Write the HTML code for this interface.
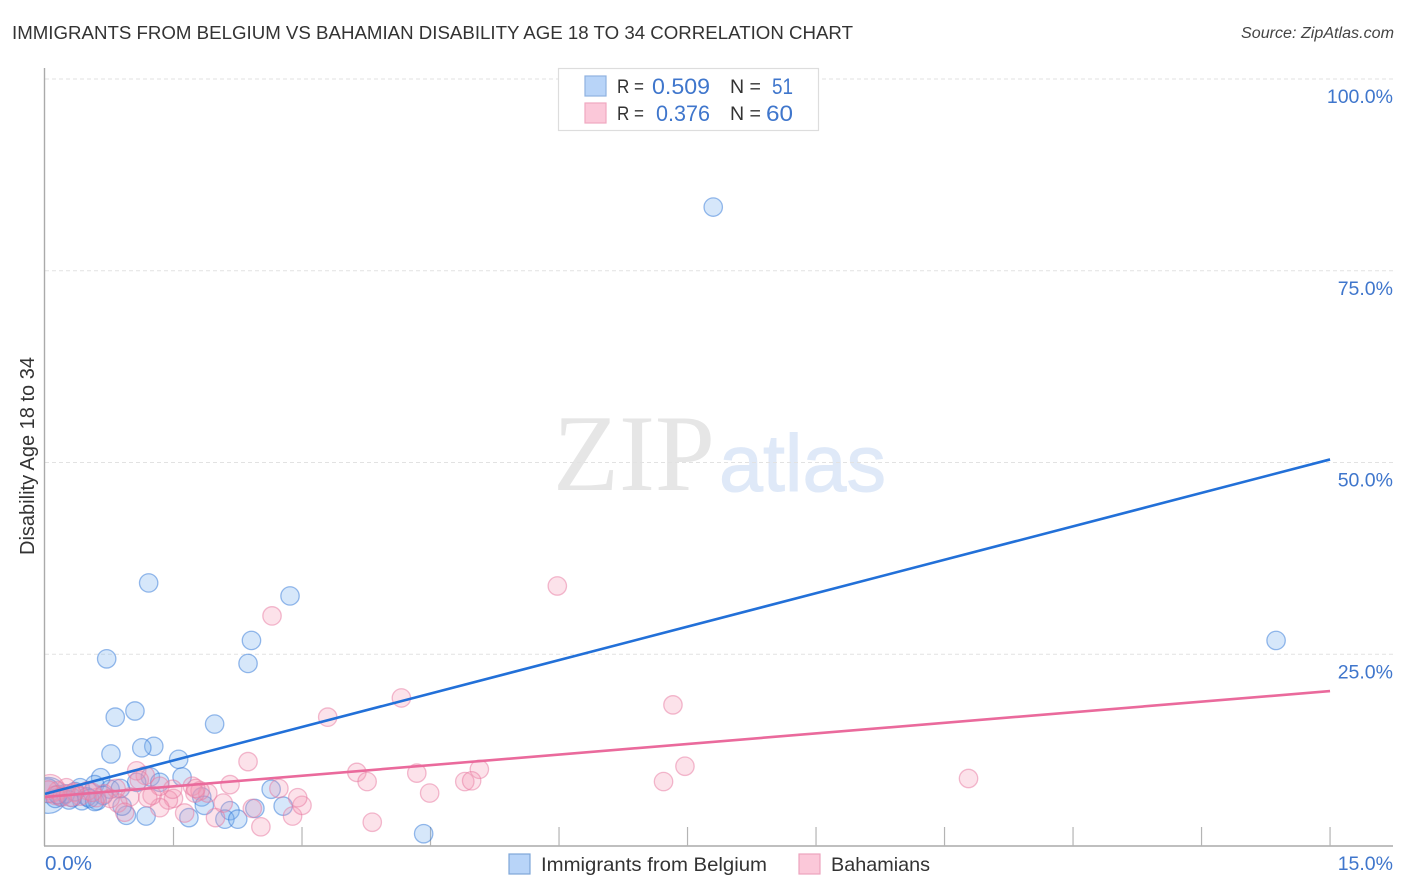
<!DOCTYPE html>
<html>
<head>
<meta charset="utf-8">
<title>Correlation chart</title>
<style>
html,body{margin:0;padding:0;background:#fff;}
svg{display:block;font-family:"Liberation Sans",sans-serif;}
</style>
</head>
<body>
<svg id="chart" width="1406" height="892" viewBox="0 0 1406 892" xmlns="http://www.w3.org/2000/svg">
  <defs>
    <clipPath id="plot-clip"><rect x="45" y="60" width="1350" height="786"/></clipPath>
  </defs>
  <text x="12" y="39" font-size="18" fill="#333" textLength="841" lengthAdjust="spacingAndGlyphs">IMMIGRANTS FROM BELGIUM VS BAHAMIAN DISABILITY AGE 18 TO 34 CORRELATION CHART</text>
  <text x="1394" y="38" font-size="15.5" font-style="italic" fill="#444" text-anchor="end" textLength="153" lengthAdjust="spacingAndGlyphs">Source: ZipAtlas.com</text>
  <g id="watermark">
    <text x="553" y="490" font-family="'Liberation Serif',serif" font-size="109" fill="#e6e6e6" textLength="162" lengthAdjust="spacingAndGlyphs">ZIP</text>
    <text x="719" y="491" font-size="81" fill="#dfe9f8" stroke="#dfe9f8" stroke-width="1" textLength="167" lengthAdjust="spacingAndGlyphs">atlas</text>
  </g>
  <g id="grid"></g>
  <g id="axes"></g>
  <g id="points-blue" clip-path="url(#plot-clip)"></g>
  <g id="points-pink" clip-path="url(#plot-clip)"></g>
  <g id="trends"></g>
  <g id="labels"></g>

  <g>
    <rect x="558.5" y="68.5" width="260" height="62" fill="#fff" stroke="#ddd" stroke-width="1.2"/>
    <rect x="585" y="76" width="21" height="20" fill="#b8d4f8" stroke="#8fb2e0" stroke-width="1.2"/>
    <rect x="585" y="103" width="21" height="20" fill="#fbc8d9" stroke="#f0a8c0" stroke-width="1.2"/>
    <g font-size="19" fill="#333">
      <text x="617" y="93" textLength="27" lengthAdjust="spacingAndGlyphs">R =</text>
      <text x="730" y="93" textLength="31" lengthAdjust="spacingAndGlyphs">N =</text>
      <text x="617" y="120" textLength="27" lengthAdjust="spacingAndGlyphs">R =</text>
      <text x="730" y="120" textLength="31" lengthAdjust="spacingAndGlyphs">N =</text>
    </g>
    <g font-size="22" fill="#3f76cc">
      <text x="652" y="94" textLength="58" lengthAdjust="spacingAndGlyphs">0.509</text>
      <text x="772" y="94" textLength="21" lengthAdjust="spacingAndGlyphs">51</text>
      <text x="656" y="121" textLength="54" lengthAdjust="spacingAndGlyphs">0.376</text>
      <text x="766" y="121" textLength="27" lengthAdjust="spacingAndGlyphs">60</text>
    </g>
  </g>

  <g>
    <rect x="509" y="854" width="21" height="20" fill="#b8d4f8" stroke="#7ea6d8" stroke-width="1.2"/>
    <text x="541" y="871" font-size="19.5" fill="#333" textLength="226" lengthAdjust="spacingAndGlyphs">Immigrants from Belgium</text>
    <rect x="799" y="854" width="21" height="20" fill="#fbc8d9" stroke="#eda3bd" stroke-width="1.2"/>
    <text x="831" y="871" font-size="19.5" fill="#333" textLength="99" lengthAdjust="spacingAndGlyphs">Bahamians</text>
  </g>
</svg>
<script>
// Chart data, in percent
const yTickValues = [25, 50, 75, 100];
const yTickLabels = ['25.0%', '50.0%', '75.0%', '100.0%'];
const xTickValues = [1.5, 3, 4.5, 6, 7.5, 9, 10.5, 12, 13.5, 15];
const xEndLabels = ['0.0%', '15.0%'];
const blueX = [7.8,14.37,1.21,2.86,2.41,2.37,0.72,1.05,0.82,1.98,0.77,1.27,1.13,1.56,1.6,1.23,1.34,1.07,0.65,0.58,0.41,0.76,2.64,1.83,1.86,2.78,2.45,2.16,2.1,2.25,1.18,0.95,1.68,4.42,0.9,0.61,0.43,0.32,0.18,0.04,0.03,0.12,0.24,0.35,0.49,0.68,0.88,0.52,0.28,0.15,0.58];
const blueY = [83.3,26.8,34.3,32.6,26.8,23.8,24.4,17.6,16.8,15.9,12,13,12.8,11.3,9,9,8.3,8.3,8.9,8,7.6,7.4,7.4,6.4,5.3,5.2,4.9,4.6,3.5,3.5,3.9,4,3.7,1.6,5.2,5.9,5.9,6.3,6.4,6.6,7.2,6.2,6.8,7.1,6.4,6.6,7.5,6.2,6,6.7,5.8];
const pinkX = [5.98,2.65,4.16,3.3,7.33,10.78,7.47,7.22,2.37,3.64,3.76,4.34,5.07,4.9,4.98,4.49,3.82,2.52,2.89,3,2.95,2.73,2.16,2.42,1.99,2.08,1.9,1.72,1.81,1.63,1.5,1.44,1.34,1.25,1.49,1.17,1.07,1.34,0.99,0.85,0.93,0.83,0.69,0.6,0.5,0.34,0.25,0.15,0.06,0.04,0.12,0.2,0.41,0.76,1.75,1.76,1.2,0.55,0.3,1.1];
const pinkY = [33.9,30,19.3,16.8,18.4,8.8,10.4,8.4,11,9.6,8.4,9.5,10,8.4,8.5,6.9,3.1,2.5,3.9,5.3,6.3,7.5,8,4.9,3.7,5.6,6.9,7.8,7.2,4.3,6.2,6,5,6.6,7.4,9.2,9.8,7.8,6.4,5.6,4.4,7.5,6.8,6.3,7.2,7,7.6,7.2,7.5,7.3,6.6,6.4,6.5,6.2,6.9,7.5,6.3,7,6.6,8.6];
const trendX = [0, 15];
const blueTrendY = [6.8, 50.4];
const pinkTrendY = [6.4, 20.2];

// Axis functions
const sx = v => 45 + v * 85.67;
const sy = v => 846 - v * 7.67;

const NS = 'http://www.w3.org/2000/svg';
function make(parentId, tag, attrs, text) {
  const el = document.createElementNS(NS, tag);
  for (const k in attrs) el.setAttribute(k, attrs[k]);
  if (text !== undefined) el.textContent = text;
  document.getElementById(parentId).appendChild(el);
  return el;
}

// Gridlines and y tick labels
yTickValues.forEach((v, i) => {
  const g = make('grid', 'line', {x1: 45, x2: 1393, y1: sy(v), y2: sy(v), stroke: '#e2e2e2', 'stroke-width': 1, 'stroke-dasharray': '4 3'});
  
  
  const t = make('labels', 'text', {x: 1393, y: sy(v) + 24, 'font-size': 19.5, fill: '#3f76cc', 'text-anchor': 'end'}, yTickLabels[i]);
  
  
});

// Axes
const yAxis = make('axes', 'line', {x1: 44.5, x2: 44.5, y1: 68, y2: 846, stroke: '#aaa', 'stroke-width': 1.4});


const xAxis = make('axes', 'line', {x1: 44, x2: 1393, y1: 846, y2: 846, stroke: '#aaa', 'stroke-width': 1.4});


xTickValues.forEach(v => {
  const tick = make('axes', 'line', {x1: sx(v), x2: sx(v), y1: 827, y2: 846, stroke: '#b4b4b4', 'stroke-width': 1.2});
  
  
});

// Axis labels
const xStart = make('labels', 'text', {x: 45, y: 870, 'font-size': 20, fill: '#3f76cc', textLength: 47, lengthAdjust: 'spacingAndGlyphs'}, xEndLabels[0]);


const xEnd = make('labels', 'text', {x: 1393, y: 870, 'font-size': 19.5, fill: '#3f76cc', 'text-anchor': 'end'}, xEndLabels[1]);


const yTitle = make('labels', 'text', {transform: 'translate(34 456) rotate(-90)', 'font-size': 20, fill: '#333', 'text-anchor': 'middle'}, 'Disability Age 18 to 34');



// Blue points
blueX.forEach((v, i) => {
  const c = make('points-blue', 'circle', {cx: sx(v), cy: sy(blueY[i]), r: i === 39 ? 18 : (i === 40 ? 12 : 9.2), fill: 'rgba(120,175,240,0.3)', stroke: 'rgba(50,120,215,0.5)', 'stroke-width': 1.3});
  
  
});

// Pink points
pinkX.forEach((v, i) => {
  const c = make('points-pink', 'circle', {cx: sx(v), cy: sy(pinkY[i]), r: i === 48 ? 14 : (i === 58 ? 11 : 9.2), fill: 'rgba(245,150,180,0.28)', stroke: 'rgba(232,120,160,0.5)', 'stroke-width': 1.3});
  
  
});

// Trend lines
const blueTrend = make('trends', 'line', {x1: sx(trendX[0]), x2: sx(trendX[1]), y1: sy(blueTrendY[0]), y2: sy(blueTrendY[1]), stroke: '#2270d8', 'stroke-width': 2.6});


const pinkTrend = make('trends', 'line', {x1: sx(trendX[0]), x2: sx(trendX[1]), y1: sy(pinkTrendY[0]), y2: sy(pinkTrendY[1]), stroke: '#ea6a9c', 'stroke-width': 2.6});


</script>
</body>
</html>
